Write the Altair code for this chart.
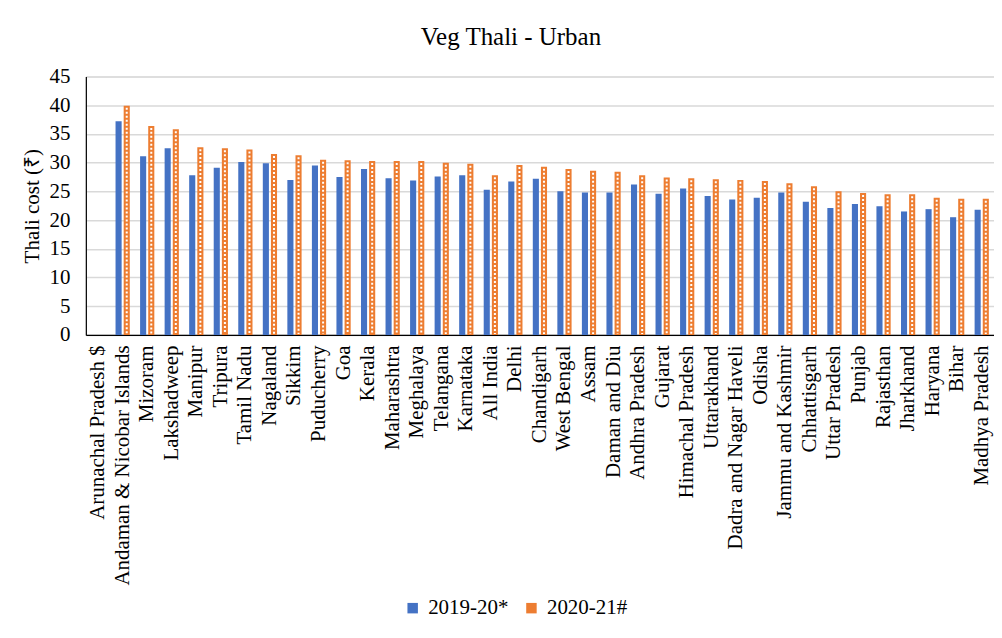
import altair as alt
import pandas as pd

categories = ["Arunachal Pradesh $", "Andaman & Nicobar Islands", "Mizoram", "Lakshadweep",
              "Manipur", "Tripura", "Tamil Nadu", "Nagaland", "Sikkim", "Puducherry", "Goa",
              "Kerala", "Maharashtra", "Meghalaya", "Telangana", "Karnataka", "All India",
              "Delhi", "Chandigarh", "West Bengal", "Assam", "Daman and Diu", "Andhra Pradesh",
              "Gujarat", "Himachal Pradesh", "Uttarakhand", "Dadra and Nagar Haveli", "Odisha",
              "Jammu and Kashmir", "Chhattisgarh", "Uttar Pradesh", "Punjab", "Rajasthan",
              "Jharkhand", "Haryana", "Bihar", "Madhya Pradesh"]

values_2019 = [None, 37.2, 31.1, 32.5, 27.8, 29.1, 30.1, 29.9, 27.0, 29.5, 27.5, 28.9, 27.3,
               26.9, 27.6, 27.8, 25.3, 26.7, 27.2, 25.0, 24.8, 24.8, 26.2, 24.6, 25.5, 24.2,
               23.6, 23.9, 24.8, 23.2, 22.1, 22.8, 22.4, 21.5, 21.9, 20.5, 21.8]
values_2020 = [None, 39.9, 36.4, 35.8, 32.7, 32.5, 32.3, 31.5, 31.3, 30.5, 30.4, 30.3, 30.3,
               30.3, 30.0, 29.8, 27.8, 29.6, 29.3, 28.9, 28.6, 28.4, 27.8, 27.4, 27.3, 27.1,
               27.0, 26.8, 26.4, 25.9, 25.0, 24.7, 24.5, 24.5, 23.9, 23.7, 23.7]
y_ticks = [0, 5, 10, 15, 20, 25, 30, 35, 40, 45]

series_names = ["2019-20*", "2020-21#"]
series_colors = ["#4472C4", "#ED7D31"]

rows = []
for c, a, b in zip(categories, values_2019, values_2020):
    rows.append({"State": c, "Series": series_names[0], "Cost": a})
    rows.append({"State": c, "Series": series_names[1], "Cost": b})
df = pd.DataFrame(rows)

FONT = "Times New Roman, Liberation Serif, serif"

x_axis = alt.Axis(title=None, labelAngle=-90, labelFontSize=21, labelFont=FONT,
                  labelColor="black", ticks=False, labelPadding=10,
                  domainColor="black", domainWidth=1.2, labelLimit=400)
y_axis = alt.Axis(title="Thali cost (₹)", values=y_ticks, tickCount=10,
                  titleFont=FONT, titleFontSize=21, titleFontWeight="normal",
                  titleColor="black", titlePadding=6,
                  labelFont=FONT, labelFontSize=21, labelColor="black",
                  labelOverlap=False, ticks=False, labelPadding=16, domainColor="black",
                  domainWidth=1.2, gridColor="#D9D9D9", gridWidth=1.5)
x_scale = alt.Scale(paddingInner=0.42, paddingOuter=0.21)
y_scale = alt.Scale(domain=[0, 45], nice=False)
xoff_enc = alt.XOffset("Series:N", scale=alt.Scale(domain=series_names, paddingInner=0.25))

bars = alt.Chart(df).mark_bar().encode(
    x=alt.X("State:N", sort=categories, scale=x_scale, axis=x_axis),
    xOffset=xoff_enc,
    y=alt.Y("Cost:Q", scale=y_scale, axis=y_axis),
    color=alt.Color("Series:N", scale=alt.Scale(domain=series_names, range=series_colors),
                    legend=alt.Legend(title=None, orient="none", legendX=317, legendY=522,
                                      direction="horizontal", symbolType="square",
                                      symbolSize=110, symbolStrokeWidth=0,
                                      labelFont=FONT, labelFontSize=21, labelColor="black",
                                      labelOffset=5, columnPadding=12)),
)

pattern = alt.Chart(df).transform_filter(
    alt.datum.Series == series_names[1]
).mark_rule(color="white", strokeWidth=2, strokeDash=[2, 2], yOffset=2, y2Offset=-1).encode(
    x=alt.X("State:N", sort=categories, scale=x_scale, axis=x_axis),
    xOffset=xoff_enc,
    y=alt.Y("Cost:Q", scale=y_scale, axis=y_axis),
    y2=alt.datum(0),
)

chart = alt.layer(bars, pattern).properties(
    width=910, height=259,
    title=alt.TitleParams("Veg Thali - Urban", anchor="middle", dx=-29, offset=16),
    autosize=alt.AutoSizeParams(type="none"),
    padding={"left": 78, "top": 68, "right": 0, "bottom": 290},
).configure_view(stroke=None).configure(
    background="white", font=FONT
).configure_title(
    font=FONT, fontSize=25, fontWeight="normal", color="black"
).configure_axis(
    labelFont=FONT, titleFont=FONT
).configure_legend(labelFont=FONT)

chart.save("out.html", embed_options={"renderer": "svg", "actions": False})
